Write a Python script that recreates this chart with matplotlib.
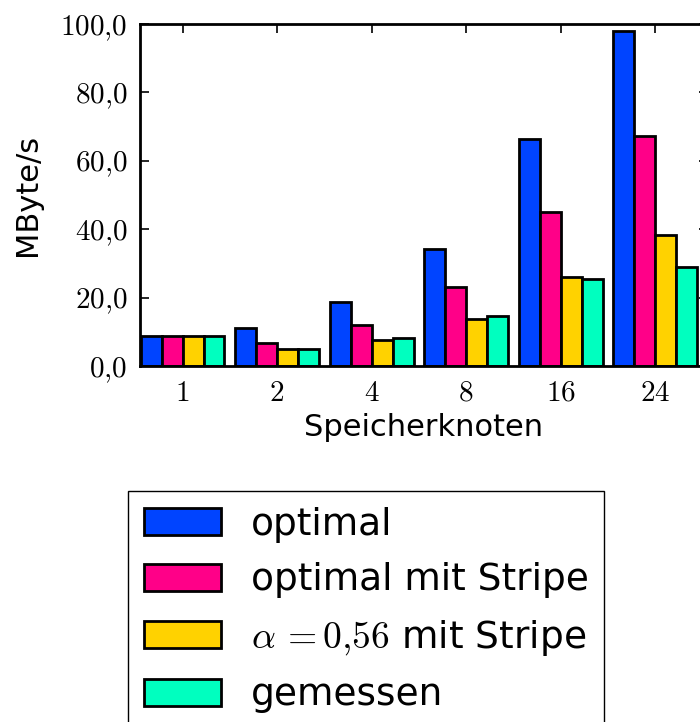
import numpy as np
import matplotlib
matplotlib.use("Agg")
import matplotlib.pyplot as plt
from matplotlib.ticker import FuncFormatter

plt.rcParams['mathtext.fontset'] = 'cm'
plt.rcParams['font.family'] = ['DejaVu Sans']

# Speicherknoten
knoten = ['1', '2', '4', '8', '16', '24']

# Werte (MByte/s)
optimal = [8.9, 11.2, 18.6, 34.3, 66.3, 98.0]
optimal_stripe = [8.9, 6.6, 12.1, 23.0, 45.0, 67.3]
alpha_stripe = [8.9, 4.9, 7.6, 13.7, 25.9, 38.3]
gemessen = [8.9, 5.0, 8.3, 14.5, 25.5, 29.0]

labels = ['optimal', 'optimal mit Stripe', r'$\alpha\,{=}0{,}56$ mit Stripe', 'gemessen']
farben = ['#0044ff', '#ff0088', '#ffd200', '#00ffbf']

fig = plt.figure(figsize=(7.0, 7.22), dpi=100)
W, H = 700, 722
ax = fig.add_axes([140 / W, 1 - 366 / H, (708 - 140) / W, (366 - 24) / H])

x = np.arange(len(knoten))
breite = 0.222
reihen = [optimal, optimal_stripe, alpha_stripe, gemessen]
for i, (werte, farbe, lab) in enumerate(zip(reihen, farben, labels)):
    ax.bar(x + (i - 1.5) * breite, werte, width=breite, color=farbe,
           edgecolor='black', linewidth=2, label=lab)

ax.set_xlim(-0.45, 5.56)
ax.set_ylim(0, 100)
ax.set_yticks([0, 20, 40, 60, 80, 100])
ax.yaxis.set_major_formatter(FuncFormatter(lambda v, p: r'$%d{,}0$' % v))
ax.set_xticks(x)
ax.set_xticklabels(['$%s$' % k for k in knoten])

for s in ax.spines.values():
    s.set_linewidth(2)
ax.tick_params(direction='in', length=6.5, width=1.2, top=True, right=True,
               labelsize=21, pad=9)

ax.set_xlabel('Speicherknoten', fontsize=22, labelpad=5)
ax.set_ylabel('MByte/s', fontsize=22, labelpad=13)

fig.legend(loc='upper left', bbox_to_anchor=(128 / W, 1 - 491 / H),
           borderaxespad=0, fontsize=27, handlelength=2.05, handleheight=0.72,
           labelspacing=0.52, handletextpad=0.8, borderpad=0.42,
           fancybox=False, edgecolor='black', framealpha=1)

fig.savefig('out.png', dpi=100)
